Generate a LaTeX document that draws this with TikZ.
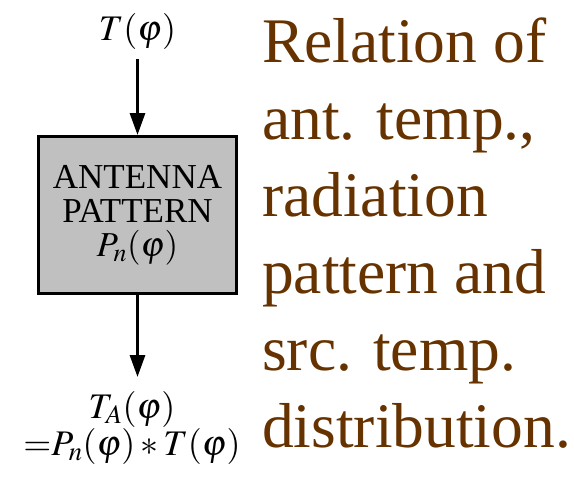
\documentclass[tikz,border=0pt]{standalone}
\usepackage{mathptmx}
\usepackage{fontspec}
\setmainfont{Liberation Serif}
\usetikzlibrary{arrows.meta,positioning}
\definecolor{capbrown}{HTML}{663300}
\definecolor{boxgray}{HTML}{C0C0C0}

\begin{document}
\begin{tikzpicture}[x=1pt,y=-1pt,
  flow/.style={-{Triangle[length=22pt,width=15pt]}, line width=3pt},
  blockbox/.style={draw, line width=3pt, fill=boxgray, minimum width=198pt, minimum height=157pt, align=center, font=\fontsize{35}{34}\selectfont},
  mathlbl/.style={align=center, inner sep=0pt, font=\fontsize{36}{30}\selectfont}]
  \useasboundingbox (0,0) rectangle (574,479);
  \node[mathlbl] (tin) at (137.5,31) {$T(\varphi)$};
  \node[blockbox] (pat) at (137.5,215) {ANTENNA\\PATTERN\\$P_n(\varphi)$};
  \node[mathlbl, anchor=north] (tout) at (132,391) {$T_A(\varphi)$\\${=}P_n(\varphi)*T(\varphi)$};
  \draw[flow, shorten <=10pt] (tin) -- (pat);
  \draw[flow, shorten >=14pt] (pat.south) -- (pat.south |- tout.north);
  \node[anchor=north west, inner sep=0pt, align=left, text=capbrown, font=\fontsize{63.5}{77}\selectfont] (cap) at (262,18) {Relation of\\ant. temp.,\\radiation\\pattern and\\src. temp.\\distribution.};
\end{tikzpicture}
\end{document}
